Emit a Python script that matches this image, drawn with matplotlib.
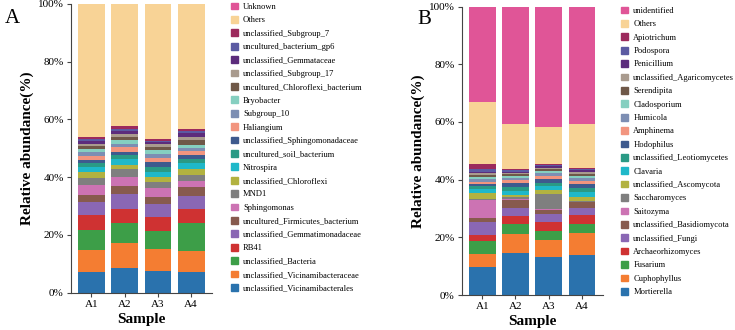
import numpy as np
import matplotlib
matplotlib.use('Agg')
import matplotlib.pyplot as plt
from matplotlib.patches import Rectangle

plt.rcParams['font.family'] = ['Liberation Serif', 'DejaVu Serif']

samples = ['A1', 'A2', 'A3', 'A4']

# bottom -> top
bact_taxa = ['unclassified_Vicinamibacterales', 'unclassified_Vicinamibacteraceae', 'unclassified_Bacteria',
             'RB41', 'unclassified_Gemmatimonadaceae', 'uncultured_Firmicutes_bacterium', 'Sphingomonas',
             'MND1', 'unclassified_Chloroflexi', 'Nitrospira', 'uncultured_soil_bacterium',
             'unclassified_Sphingomonadaceae', 'Haliangium', 'Subgroup_10', 'Bryobacter',
             'uncultured_Chloroflexi_bacterium', 'unclassified_Subgroup_17', 'unclassified_Gemmataceae',
             'uncultured_bacterium_gp6', 'unclassified_Subgroup_7', 'Others', 'Unknown']
bact_A1 = [7.3, 7.6, 6.9, 5.0, 4.7, 2.3, 3.5, 2.5, 1.9, 1.7, 1.4, 1.2, 1.5, 1.2, 1.1, 0.9, 0.9, 0.8, 0.7, 0.9, 46.0, 0.0]
bact_A2 = [8.7, 8.5, 6.8, 4.9, 5.3, 2.9, 2.9, 2.7, 1.5, 2.1, 1.5, 1.0, 1.6, 1.1, 1.4, 1.1, 1.0, 0.9, 0.9, 0.9, 42.3, 0.0]
bact_A3 = [7.5, 7.7, 6.3, 4.8, 4.5, 2.3, 3.1, 2.3, 1.6, 1.8, 1.7, 1.8, 1.4, 1.1, 1.5, 1.2, 0.8, 0.7, 0.6, 0.7, 46.6, 0.0]
bact_A4 = [7.3, 7.2, 9.5, 5.0, 4.5, 3.0, 2.2, 2.1, 2.0, 2.0, 1.4, 1.5, 1.5, 1.0, 1.1, 1.5, 1.2, 1.2, 0.9, 0.6, 43.3, 0.0]

fung_taxa = ['Mortierella', 'Cuphophyllus', 'Fusarium', 'Archaeorhizomyces', 'unclassified_Fungi',
             'unclassified_Basidiomycota', 'Saitozyma', 'Saccharomyces', 'unclassified_Ascomycota',
             'Clavaria', 'unclassified_Leotiomycetes', 'Hodophilus', 'Amphinema', 'Humicola',
             'Cladosporium', 'Serendipita', 'unclassified_Agaricomycetes', 'Penicillium', 'Podospora',
             'Apiotrichum', 'Others', 'unidentified']
fung_A1 = [9.8, 4.5, 4.3, 2.2, 4.6, 1.2, 6.4, 0.4, 2.0, 1.4, 1.1, 0.7, 0.6, 1.0, 0.8, 0.6, 0.6, 0.6, 0.8, 1.9, 21.3, 33.2]
fung_A2 = [14.6, 6.6, 3.3, 2.9, 2.7, 2.9, 0.3, 0.6, 0.8, 1.5, 1.4, 1.1, 1.2, 0.8, 0.7, 0.6, 0.4, 0.4, 0.5, 0.3, 15.7, 40.7]
fung_A3 = [13.3, 5.8, 3.1, 3.2, 2.6, 1.5, 0.3, 5.2, 1.5, 1.3, 1.2, 1.2, 1.1, 0.9, 0.8, 0.6, 0.5, 0.5, 0.4, 0.3, 13.1, 41.6]
fung_A4 = [13.9, 7.7, 3.0, 3.1, 2.6, 1.8, 0.2, 0.4, 1.4, 1.7, 1.4, 1.3, 1.1, 1.0, 0.8, 0.7, 0.6, 0.5, 0.5, 0.3, 15.2, 40.8]

colors = ['#2a72ad', '#f47d32', '#3d9e48', '#cf3232', '#8a67b4', '#875a4e', '#cc73b3', '#7f7f7f',
          '#b2b240', '#1fb8c9', '#2a9a85', '#3e5a8e', '#f2957f', '#7d8eb3', '#86cfc0', '#6f5848',
          '#a99b8e', '#5c2c7c', '#5b5aa2', '#9c2a5d', '#f8d396', '#e05597']


def stacked(ax, taxa, cols, leg_x, leg_y):
    data = np.array(cols).T  # taxa x samples
    x = np.arange(len(samples))
    bottom = np.zeros(len(samples))
    for i in range(len(taxa)):
        ax.bar(x, data[i], 0.8, bottom=bottom, color=colors[i], linewidth=0)
        bottom += data[i]
    ax.set_xlim(-0.62, 3.62)
    ax.set_ylim(0, 100)
    ax.set_xticks(x)
    ax.set_xticklabels(samples, fontsize=8)
    ax.set_yticks(np.arange(0, 101, 20))
    ax.set_yticklabels([f'{v}%' for v in range(0, 101, 20)], fontsize=8)
    ax.tick_params(length=3, width=0.8, color='#444444', pad=2)
    for s in ['top', 'right']:
        ax.spines[s].set_visible(False)
    for s in ['left', 'bottom']:
        ax.spines[s].set_color('#444444')
        ax.spines[s].set_linewidth(0.8)
    ax.set_xlabel('Sample', fontsize=11, fontweight='bold', labelpad=3)
    ax.set_ylabel('Relative abundance(%)', fontsize=11, fontweight='bold', labelpad=3)

    handles = [Rectangle((0, 0), 1, 1, color=colors[i]) for i in range(len(taxa))][::-1]
    fig.legend(handles, taxa[::-1], loc='upper left', bbox_to_anchor=(leg_x, leg_y),
               frameon=False, fontsize=6.1, handlelength=0.85, handleheight=0.85,
               handletextpad=0.6, labelspacing=0.6, borderpad=0, borderaxespad=0)


fig = plt.figure(figsize=(7.35, 3.3), dpi=100)
axA = fig.add_axes([0.0962, 0.113, 0.192, 0.875])
axB = fig.add_axes([0.628, 0.106, 0.192, 0.874])

stacked(axA, bact_taxa, [bact_A1, bact_A2, bact_A3, bact_A4], 0.314, 0.992)
stacked(axB, fung_taxa, [fung_A1, fung_A2, fung_A3, fung_A4], 0.845, 0.98)

fig.text(0.006, 0.93, 'A', fontsize=15, va='baseline')
fig.text(0.568, 0.927, 'B', fontsize=15, va='baseline')

fig.savefig('out.png', dpi=100)
